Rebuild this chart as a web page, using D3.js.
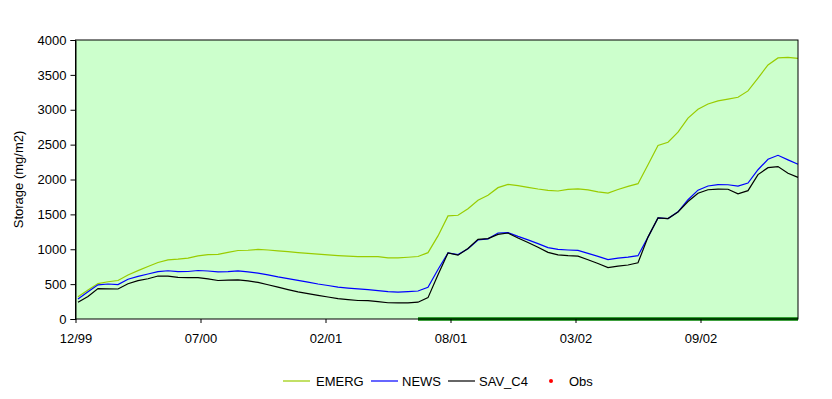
<!DOCTYPE html>
<html>
<head>
<meta charset="utf-8">
<script src="https://cdn.jsdelivr.net/npm/d3@7"></script>
<style>
  body { margin: 0; background: #fff; }
  text { font-family: "Liberation Sans", Arial, sans-serif; font-size: 13px; fill: #000; }
</style>
</head>
<body>
<div id="chart"></div>
<script>
// time axis in weeks since start, one sample every 2 weeks
const weeks = d3.range(73).map(k => 0.5 + 2 * k);
const tickWeeks = [0, 25, 50, 75, 100, 125];
const tickLabels = ["12/99", "07/00", "02/01", "08/01", "03/02", "09/02"];

const emerg = [320,415,508,534,552,632,693,752,810,848,859,874,906,923,926,956,982,986,997,989,
  977,965,953,941,929,919,910,902,894,893,893,875,877,885,896,951,1191,1478,1487,1581,
  1702,1774,1883,1930,1913,1887,1864,1845,1835,1858,1865,1850,1822,1806,1856,1902,1940,2211,2489,2534,
  2678,2880,3007,3082,3128,3152,3179,3270,3454,3642,3743,3752,3737];
const news = [287,390,490,502,493,570,612,645,680,692,680,681,695,688,676,680,690,676,658,632,
  603,578,554,528,502,480,458,444,432,420,408,392,385,393,401,455,709,947,924,1008,
  1133,1149,1233,1239,1184,1134,1081,1024,997,989,983,941,897,852,872,888,908,1174,1449,1440,
  1537,1710,1847,1907,1927,1925,1905,1950,2140,2290,2347,2282,2218];
const savC4 = [239,322,436,432,430,505,549,577,616,616,597,592,592,574,552,556,561,546,524,491,
  456,422,389,363,339,315,292,277,265,263,249,233,231,230,241,306,635,947,915,1011,
  1142,1153,1214,1233,1162,1096,1028,956,919,908,901,850,795,738,759,774,806,1174,1449,1440,
  1534,1684,1803,1853,1862,1860,1795,1840,2070,2170,2185,2090,2031];
// observation flags along the zero line
const obsWeeks = [68.5, 144.5];
const obsValues = [0, 0];

const width = 832, height = 399;
const margin = { left: 75.5, right: 34, top: 40, bottom: 80 };

const svg = d3.select("#chart").append("svg")
  .attr("width", width)
  .attr("height", height);

const x = d3.scaleLinear().domain([0, 144.5]).range([margin.left, width - margin.right]);
const y = d3.scaleLinear().domain([0, 4000]).range([height - margin.bottom, margin.top]);

// plot background
svg.append("rect")
  .attr("x", x(0)).attr("y", y(4000))
  .attr("width", x(144.5) - x(0)).attr("height", y(0) - y(4000))
  .attr("fill", "#ccffcc");

const series = [
  { name: "EMERG", values: emerg, color: "#99cc00" },
  { name: "NEWS", values: news, color: "#0000ff" },
  { name: "SAV_C4", values: savC4, color: "#000000" }
];

const line = d3.line().x(d => x(d[0])).y(d => y(d[1]));

series.forEach(s => {
  svg.append("path")
    .datum(weeks.map((w, i) => [w, s.values[i]]))
    .attr("fill", "none")
    .attr("stroke", s.color)
    .attr("stroke-width", 1.2)
    .attr("d", line);
});

svg.append("path")
  .datum(obsWeeks.map((w, i) => [w, obsValues[i]]))
  .attr("fill", "none")
  .attr("stroke", "#008000")
  .attr("stroke-width", 3.5)
  .attr("d", line);

// plot border
svg.append("rect")
  .attr("x", x(0)).attr("y", y(4000))
  .attr("width", x(144.5) - x(0)).attr("height", y(0) - y(4000))
  .attr("fill", "none")
  .attr("stroke", "#000")
  .attr("stroke-width", 1);

// y axis
const yAxis = svg.append("g")
  .attr("transform", `translate(${x(0)},0)`)
  .call(d3.axisLeft(y).tickValues(d3.range(0, 4001, 500)).tickSize(5).tickPadding(4).tickFormat(d3.format("d")));
yAxis.select(".domain").attr("stroke", "#000");
yAxis.selectAll("text").style("font-size", "13px").attr("fill", "#000");

// x axis
const xAxis = svg.append("g")
  .attr("transform", `translate(0,${y(0)})`)
  .call(d3.axisBottom(x).tickValues(tickWeeks).tickSize(4).tickPadding(11)
    .tickFormat((d, i) => tickLabels[i]));
xAxis.select(".domain").remove();
xAxis.selectAll("line").attr("y1", 0).attr("y2", 4);
xAxis.selectAll("text").style("font-size", "13px").attr("fill", "#000");

// y title
svg.append("text")
  .attr("transform", `translate(23,${(y(0) + y(4000)) / 2}) rotate(-90)`)
  .attr("text-anchor", "middle")
  .style("font-size", "13px")
  .text("Storage (mg/m2)");

// legend
const legendY = 381;
const legend = [
  { name: "EMERG", color: "#99cc00", x0: 283, tx: 316 },
  { name: "NEWS", color: "#0000ff", x0: 371, tx: 402 },
  { name: "SAV_C4", color: "#000000", x0: 448, tx: 479 }
];
legend.forEach(l => {
  svg.append("line")
    .attr("x1", l.x0).attr("x2", l.x0 + 27)
    .attr("y1", legendY).attr("y2", legendY)
    .attr("stroke", l.color).attr("stroke-width", 1.2);
  svg.append("text")
    .attr("x", l.tx).attr("y", legendY + 5)
    .text(l.name);
});
svg.append("circle")
  .attr("cx", 551).attr("cy", legendY)
  .attr("r", 2).attr("fill", "#ff0000");
svg.append("text")
  .attr("x", 569).attr("y", legendY + 5)
  .text("Obs");
</script>
</body>
</html>
